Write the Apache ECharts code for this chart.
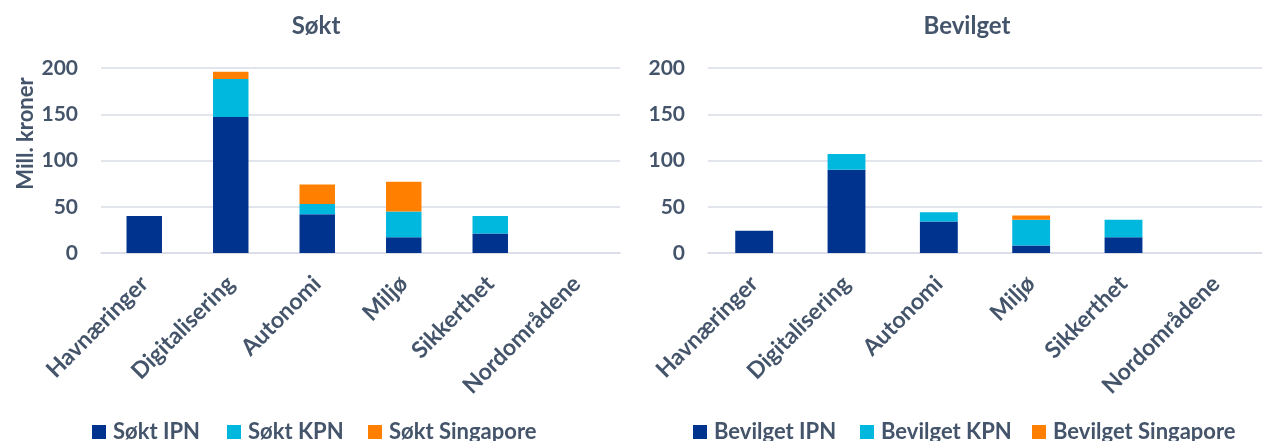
<!DOCTYPE html>
<html><head><meta charset="utf-8">
<script src="https://cdn.jsdelivr.net/npm/echarts@6/dist/echarts.min.js"></script>
<style>html,body{margin:0;padding:0;background:#fff}#c{width:1262px;height:441px}</style>
</head><body><div id="c"></div>
<script>
const categories = ['Havnæringer','Digitalisering','Autonomi','Miljø','Sikkerthet','Nordområdene'];
const yTicks = [0, 50, 100, 150, 200];
const soktIPN = [40, 147, 42, 17, 21, 0];
const soktKPN = [0, 41, 11, 28, 19, 0];
const soktSingapore = [0, 8, 21, 32, 0, 0];
const bevIPN = [24, 90, 34, 8, 17, 0];
const bevKPN = [0, 17, 10, 28, 19, 0];
const bevSingapore = [0, 0, 0, 4.5, 0, 0];
const legendNames = ['Søkt IPN','Søkt KPN','Søkt Singapore','Bevilget IPN','Bevilget KPN','Bevilget Singapore'];

const TXT = '#44546A';
const FONT = 'Lato';
const C1 = '#00338D', C2 = '#00B8DD', C3 = '#FF8000';
const legendLeft = [92, 227, 368, 693, 860, 1032];
const chart = echarts.init(document.getElementById('c'), null, {renderer:'canvas'});
function xAx(i){return {type:'category', gridIndex:i, data:categories,
  axisLine:{lineStyle:{color:'#D9DCE6', width:1.5}}, axisTick:{show:false},
  axisLabel:{rotate:45, color:TXT, fontFamily:FONT, fontWeight:'bold', fontSize:23, margin:27, interval:0}};}
function yAx(i, name){return {type:'value', gridIndex:i, min:yTicks[0], max:yTicks[yTicks.length-1], interval:50,
  name:name, nameLocation:'middle', nameGap:64,
  nameTextStyle:{color:TXT, fontFamily:FONT, fontWeight:'bold', fontSize:22, padding:[0,0,0,54]},
  axisLine:{show:false}, axisTick:{show:false},
  splitLine:{lineStyle:{color:'#D9DCE6', width:1.5}},
  axisLabel:{color:TXT, fontFamily:FONT, fontWeight:'bold', fontSize:21, margin:23}};}
function bar(name, data, xi, color){return {name, type:'bar', stack:'s'+xi, xAxisIndex:xi, yAxisIndex:xi,
  data, barWidth:'41%', itemStyle:{color}};}
chart.setOption({
  animation:false,
  title:[
    {text:'Søkt', left:311, top:9, textAlign:'center', textStyle:{color:TXT, fontFamily:FONT, fontWeight:'bold', fontSize:24}},
    {text:'Bevilget', left:962, top:9, textAlign:'center', textStyle:{color:TXT, fontFamily:FONT, fontWeight:'bold', fontSize:24}}
  ],
  grid:[
    {left:101, top:68, width:519, height:185},
    {left:708, top:68, width:564, height:185}
  ],
  xAxis:[xAx(0), xAx(1)],
  yAxis:[yAx(0,'Mill. kroner'), yAx(1,'')],
  legend: legendNames.map((n, i) => ({data:[n], left:legendLeft[i], top:421, padding:0, itemWidth:14, itemHeight:14, icon:'rect',
    selectedMode:false, textStyle:{color:TXT, fontFamily:FONT, fontWeight:'bold', fontSize:22, padding:[0,0,0,2]}})),
  series:[
    bar('Søkt IPN', soktIPN, 0, C1), bar('Søkt KPN', soktKPN, 0, C2), bar('Søkt Singapore', soktSingapore, 0, C3),
    bar('Bevilget IPN', bevIPN, 1, C1), bar('Bevilget KPN', bevKPN, 1, C2), bar('Bevilget Singapore', bevSingapore, 1, C3)
  ]
});
</script></body></html>
